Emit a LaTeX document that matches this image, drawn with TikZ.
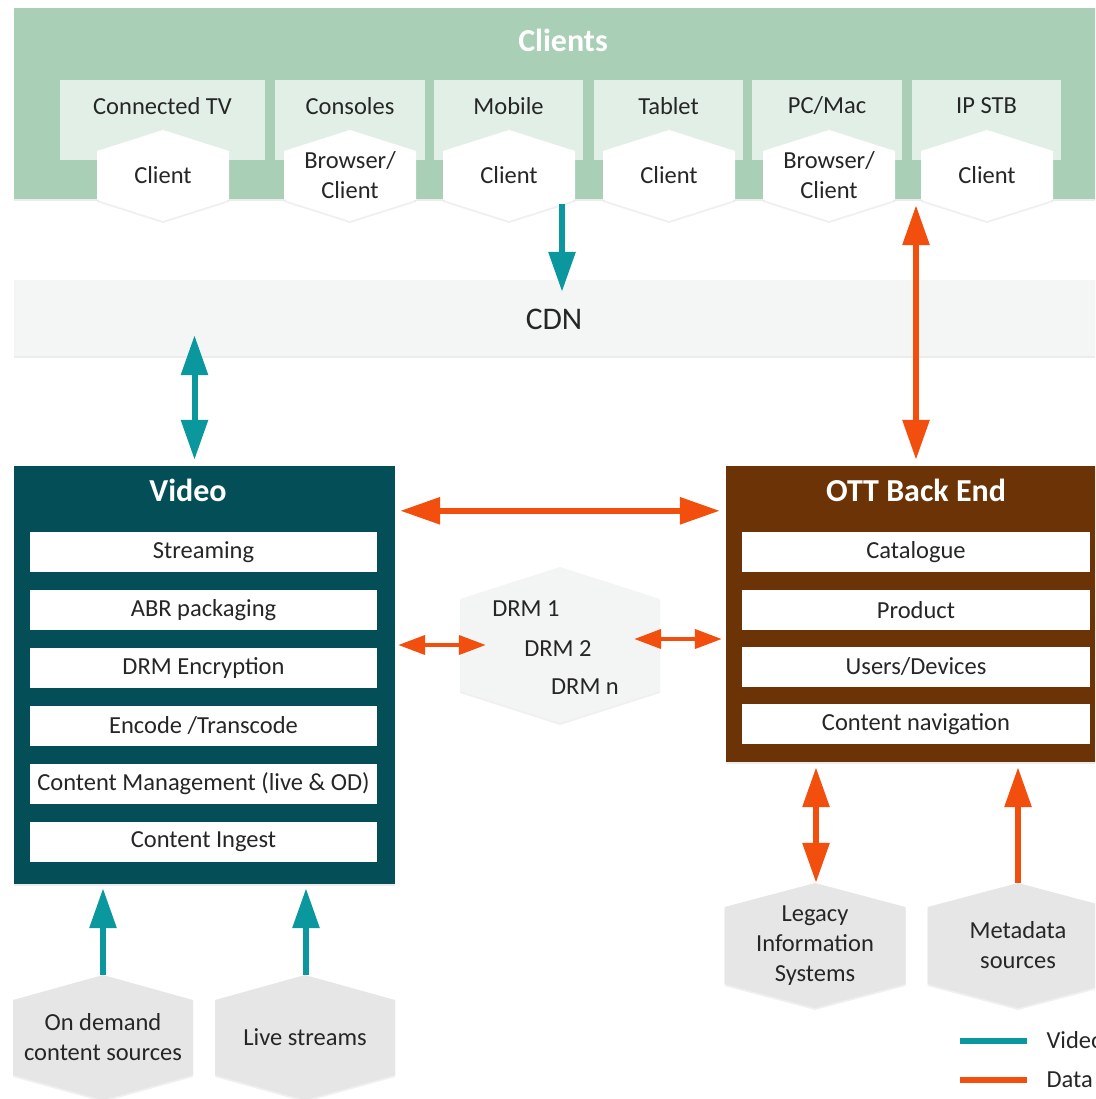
\documentclass[tikz,border=0pt]{standalone}
\usepackage{fontspec}
\setmainfont{Carlito}
\usetikzlibrary{arrows.meta,calc,shadows}
\definecolor{bandgreen}{HTML}{A9CFB6}
\definecolor{devgreen}{HTML}{E2EFE6}
\definecolor{cdngray}{HTML}{F4F5F5}
\definecolor{videoteal}{HTML}{044F57}
\definecolor{ottbrown}{HTML}{6B3306}
\definecolor{arrteal}{HTML}{0A979D}
\definecolor{arrorange}{HTML}{F24E0E}
\definecolor{drmgray}{HTML}{F3F4F4}
\definecolor{srcgray}{HTML}{E6E6E6}
\definecolor{txtgray}{HTML}{262626}
\newcommand\hexnode[8]{%
  \fill[#7, hexsh] (#2,#3-#5/2) -- (#2+#4/2,#3-#5/2+#6) -- (#2+#4/2,#3+#5/2-#6) -- (#2,#3+#5/2) -- (#2-#4/2,#3+#5/2-#6) -- (#2-#4/2,#3-#5/2+#6) -- cycle;
  \node[txt, minimum width=#4pt, minimum height=#5pt, inner sep=0pt] (#1) at (#2,#3) {#8};
}
\tikzset{
  txt/.style={text=txtgray, align=center, font=\fontsize{24.5}{30}\selectfont},
  ttl/.style={text=white, font=\bfseries\fontsize{32}{38}\selectfont},
  hexsh/.style={drop shadow={shadow xshift=0pt, shadow yshift=-2pt, opacity=0.12}},
  boxsh/.style={drop shadow={shadow xshift=0pt, shadow yshift=-2pt, opacity=0.15}},
  devbox/.style={fill=devgreen, minimum height=80pt, inner sep=0pt},
  whitebox/.style={txt, fill=white, minimum height=40pt, inner sep=0pt},
  vid/.style={draw=arrteal, line width=6pt},
  dat/.style={draw=arrorange, line width=6pt},
  datthin/.style={draw=arrorange, line width=4pt},
  Tri/.tip={Triangle[width=26pt,length=40pt]},
  TriS/.tip={Triangle[width=19pt,length=27pt]},
}
\begin{document}
\begin{tikzpicture}[x=1pt,y=-1pt]
\useasboundingbox (0,0) rectangle (1095,1099);
\clip (0,0) rectangle (1095,1099);

% Clients band
\node[fill=bandgreen, boxsh, minimum width=1096pt, minimum height=191pt, inner sep=0pt] (band) at (562,103.5) {};
\node[ttl] (clients) at (563,40) {Clients};

% device boxes
\node[devbox, minimum width=205pt] (tvb) at (162.5,120) {};
\node[devbox, minimum width=150pt] (conb) at (350,120) {};
\node[devbox, minimum width=149pt] (mobb) at (508.5,120) {};
\node[devbox, minimum width=149pt] (tabb) at (668.5,120) {};
\node[devbox, minimum width=150pt] (pcb) at (827,120) {};
\node[devbox, minimum width=149pt] (stbb) at (986.5,120) {};
\node[txt] (tvt) at (162.5,106) {Connected TV};
\node[txt] (cont) at (350,106) {Consoles};
\node[txt] (mobt) at (508.5,106) {Mobile};
\node[txt] (tabt) at (668.5,106) {Tablet};
\node[txt] (pct) at (827,106) {PC/Mac};
\node[txt] (stbt) at (986.5,106) {IP STB};

% client hexagons
\hexnode{tvc}{163}{175.5}{132}{91}{21}{white}{Client}
\hexnode{conc}{350}{175.5}{132}{91}{21}{white}{Browser/\\Client}
\hexnode{mob}{509}{175.5}{132}{91}{21}{white}{Client}
\hexnode{tabc}{669}{175.5}{132}{91}{21}{white}{Client}
\hexnode{pcc}{829}{175.5}{132}{91}{21}{white}{Browser/\\Client}
\hexnode{stbc}{987}{175.5}{132}{91}{21}{white}{Client}

% CDN
\node[fill=cdngray, boxsh, minimum width=1096pt, minimum height=76pt, inner sep=0pt] (cdn) at (562,318) {};
\node[txt, font=\fontsize{31.5}{36}\selectfont] (cdnt) at (554,319) {CDN};

% Video block
\node[fill=videoteal, boxsh, minimum width=381pt, minimum height=418pt, inner sep=0pt] (video) at (204.5,675) {};
\node[ttl] (videot) at (188,490) {Video};
\node[whitebox, minimum width=347pt] (v1) at (203.5,552) {Streaming};
\node[whitebox, minimum width=347pt] (v2) at (203.5,610) {ABR packaging};
\node[whitebox, minimum width=347pt] (v3) at (203.5,668) {DRM Encryption};
\node[whitebox, minimum width=347pt] (v4) at (203.5,726) {Encode /Transcode};
\node[whitebox, minimum width=347pt] (v5) at (203.5,784) {Content Management (live \& OD)};
\node[whitebox, minimum width=347pt] (v6) at (203.5,842) {Content Ingest};

% OTT block
\node[fill=ottbrown, boxsh, minimum width=380pt, minimum height=296pt, inner sep=0pt] (ott) at (916,614) {};
\node[ttl] (ottt) at (916,490) {OTT Back End};
\node[whitebox, minimum width=348pt] (o1) at (916,552) {Catalogue};
\node[whitebox, minimum width=348pt] (o2) at (916,610) {Product};
\node[whitebox, minimum width=348pt] (o3) at (916,667) {Users/Devices};
\node[whitebox, minimum width=348pt] (o4) at (916,724) {Content navigation};

% DRM hexagon
\hexnode{drm}{560}{645}{200}{156}{32}{drmgray}{}
\node[txt] (drm1) at (526,609) {DRM 1};
\node[txt] (drm2) at (558,649) {DRM 2};
\node[txt] (drmn) at (585,687) {DRM n};

% source hexagons
\hexnode{leg}{815}{945.5}{181}{125}{24}{srcgray}{Legacy\\Information\\Systems}
\hexnode{meta}{1018}{945.5}{181}{125}{24}{srcgray}{Metadata\\sources}
\hexnode{ond}{103}{1037.5}{180}{125}{25}{srcgray}{On demand\\content sources}
\hexnode{live}{305}{1037.5}{180}{125}{25}{srcgray}{Live streams}

% connectors
\coordinate (mobout) at ($(mob.center)+(53,29)$);
\draw[vid,-{Tri}] (mobout) -- ($(mobout |- cdn.north)+(0,12)$);
\coordinate (cv) at ($(video.north)+(-10,0)$);
\draw[vid,{Tri}-{Tri}] ($(cv |- cdn.south)+(0,-21)$) -- ($(cv)+(0,-6)$);
\draw[dat,{Tri}-{Tri}] ($(ott.north |- band.south)+(0,6)$) -- ($(ott.north)+(0,-6)$);
\draw[dat,{Tri}-{Tri}] ($(video.north east)+(5,45)$) -- ($(ott.north west)+(-6,45)$);
\draw[datthin,{TriS}-{TriS}] ($(video.east)+(3,-30)$) -- ($(drm.west)+(26,0)$);
\draw[datthin,{TriS}-{TriS}] ($(drm.east)+(-26,-6)$) -- ($(ott.west |- drm.east)+(-4,-6)$);
\draw[dat,{Tri}-{Tri}] ($(ott.south -| leg.north)+(1,5)$) -- ($(leg.north)+(1,0)$);
\draw[dat,-{Tri}] (meta.north) -- ($(ott.south -| meta.north)+(0,5)$);
\draw[vid,-{Tri}] (ond.north) -- ($(ond.north |- video.south)+(0,4)$);
\draw[vid,-{Tri}] ($(live.north)+(1,0)$) -- ($(live.north |- video.south)+(1,4)$);

% legend
\node[txt, anchor=west] (lgv) at (1043,1040) {Video};
\node[txt, anchor=west] (lgd) at (1043,1080) {Data};
\draw[draw=arrteal, line width=6pt] ($(lgv.west)+(-83,1)$) -- ($(lgv.west)+(-16,1)$);
\draw[draw=arrorange, line width=6pt] ($(lgd.west)+(-83,0)$) -- ($(lgd.west)+(-16,0)$);
\end{tikzpicture}
\end{document}
